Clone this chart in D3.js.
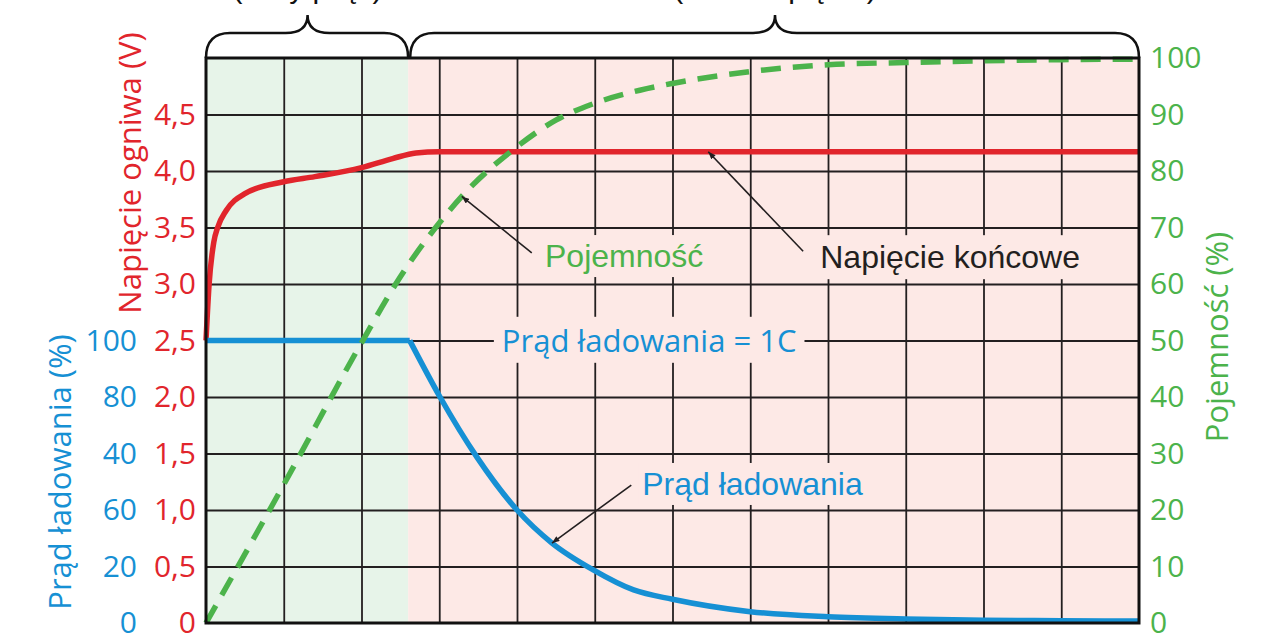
<!doctype html>
<html>
<head>
<meta charset="utf-8">
<script src="https://d3js.org/d3.v7.min.js"></script>
<style>
    body { margin: 0; background: #fff; }
    .grid line { stroke: #231f20; stroke-width: 1.8px; }
    .grid path { display: none; }
    .ax path { display: none; }
    .ax text { font-family: "Open Sans", sans-serif; font-size: 30px; }
</style>
</head>
<body>
<script>

    // time axis: 12 grid columns, first phase ends at 2.6
    var phaseEnd = 2.6;

    // cell voltage (V)
    var voltageT = [0, 0.04, 0.1, 0.15, 0.26, 0.5, 1.0, 1.4, 2.0, 2.4, 2.7, 3.0, 12];
    var voltageV = [2.5, 3.0, 3.37, 3.5, 3.65, 3.8, 3.905, 3.95, 4.03, 4.11, 4.16, 4.17, 4.17];

    // charging current (%)
    var currentT = [0, 2.62, 3.01, 3.48, 4.0, 4.45, 4.98, 5.5, 6.0, 7.0, 8.0, 9.0, 10, 11, 12];
    var currentV = [100, 100, 80, 58.9, 40, 28.3, 18.8, 11.7, 8.4, 4.0, 2.2, 1.4, 1.0, 0.8, 0.7];

    // capacity (%)
    var capT = [0, 1, 2, 2.5, 3.0, 3.29, 4.0, 4.5, 5.0, 5.58, 6.0, 7.0, 8.0, 9.0, 10, 11, 12];
    var capV = [0, 24.5, 49.6, 61.3, 70.8, 75.5, 84.3, 89, 92, 94.3, 95.5, 97.6, 98.8, 99.2, 99.5, 99.7, 99.8];

    // tick labels
    var voltTicks = [0, 0.5, 1.0, 1.5, 2.0, 2.5, 3.0, 3.5, 4.0, 4.5];
    var voltTickLabels = ["0", "0,5", "1,0", "1,5", "2,0", "2,5", "3,0", "3,5", "4,0", "4,5"];
    var currentTicks = [0, 20, 40, 60, 80, 100];
    var currentTickLabels = ["0", "20", "60", "40", "80", "100"];
    var capTicks = [0, 10, 20, 30, 40, 50, 60, 70, 80, 90, 100];

    var red = "#e1252c", blue = "#1690d4", green = "#4cb34b", ink = "#231f20";
    var greenBg = "#e7f4e9", pinkBg = "#fde9e6";

    var margin = {top: 58, right: 141, bottom: 17, left: 206},
        width = 1280 - margin.left - margin.right,
        height = 640 - margin.top - margin.bottom;

    var svg = d3.select("body").append("svg")
        .attr("width", 1280)
        .attr("height", 640);

    var g = svg.append("g")
        .attr("transform", "translate(" + margin.left + "," + margin.top + ")");

    var x = d3.scaleLinear().domain([0, 12]).range([0, width]);
    var yV = d3.scaleLinear().domain([0, 5]).range([height, 0]);
    var yCap = d3.scaleLinear().domain([0, 100]).range([height, 0]);
    var yCur = d3.scaleLinear().domain([0, 100]).range([height, yV(2.5)]);

    // phase backgrounds
    g.append("rect").attr("x", x(0)).attr("y", 0)
        .attr("width", x(phaseEnd) - x(0)).attr("height", height).attr("fill", greenBg);
    g.append("rect").attr("x", x(phaseEnd)).attr("y", 0)
        .attr("width", x(12) - x(phaseEnd)).attr("height", height).attr("fill", pinkBg);

    // grid
    g.append("g").attr("class", "grid")
        .attr("transform", "translate(0," + height + ")")
        .call(d3.axisBottom(x).tickValues(d3.range(1, 12)).tickSize(-height).tickFormat(""));
    g.append("g").attr("class", "grid")
        .call(d3.axisLeft(yV).tickValues(voltTicks.slice(1)).tickSize(-width).tickFormat(""));

    // annotation labels (with background patches that break the grid)
    var labels = [
        {text: "Pojemność", t: 4.36, v: 3.15, color: green, font: "Liberation Sans", size: 32, anchor: "start", bg: pinkBg, px: 4, py: 3},
        {text: "Napięcie końcowe", t: 7.9, v: 3.14, color: ink, font: "Liberation Sans", size: 32, anchor: "start", bg: pinkBg, px: 5, py: 4},
        {text: "Prąd ładowania = 1C", t: 5.7, v: 2.4, color: blue, font: "Open Sans", size: 31, anchor: "middle", bg: pinkBg, px: 8, py: 2},
        {text: "Prąd ładowania", t: 5.61, v: 1.133, color: blue, font: "Liberation Sans", size: 32, anchor: "start", bg: pinkBg, px: 4, py: 3}
    ];

    var bgLayer = g.append("g");
    var curveLayer = g.append("g");
    var textLayer = g.append("g");

    labels.forEach(function (d) {
        var t = textLayer.append("text")
            .attr("x", x(d.t))
            .attr("y", yV(d.v))
            .attr("text-anchor", d.anchor)
            .attr("font-family", d.font)
            .attr("font-size", d.size + "px")
            .attr("fill", d.color)
            .text(d.text);
        var b = t.node().getBBox();
        bgLayer.append("rect")
            .attr("x", b.x - d.px).attr("y", b.y - d.py)
            .attr("width", b.width + 2 * d.px).attr("height", b.height + 2 * d.py)
            .attr("fill", d.bg);
    });

    // curves
    var voltLine = d3.line()
        .x(function (d, i) { return x(voltageT[i]); })
        .y(function (d) { return yV(d); })
        .curve(d3.curveMonotoneX);
    curveLayer.append("path")
        .attr("d", voltLine(voltageV))
        .attr("fill", "none").attr("stroke", red).attr("stroke-width", 5.5);

    var knee = 1;
    var curLine = d3.line()
        .x(function (d) { return x(d[0]); })
        .y(function (d) { return yCur(d[1]); });
    var curPts = currentT.map(function (t, i) { return [t, currentV[i]]; });
    curveLayer.append("path")
        .attr("d", curLine(curPts.slice(0, knee + 1)))
        .attr("fill", "none").attr("stroke", blue).attr("stroke-width", 5.5);
    curveLayer.append("path")
        .attr("d", curLine.curve(d3.curveMonotoneX)(curPts.slice(knee)))
        .attr("fill", "none").attr("stroke", blue).attr("stroke-width", 5.5)
        .attr("stroke-linejoin", "round");

    var capLine = d3.line()
        .x(function (d, i) { return x(capT[i]); })
        .y(function (d) { return yCap(d); })
        .curve(d3.curveMonotoneX);
    curveLayer.append("path")
        .attr("d", capLine(capV))
        .attr("fill", "none").attr("stroke", green).attr("stroke-width", 5.5)
        .attr("stroke-dasharray", "20 12");

    // leader lines, in data units of the voltage scale
    svg.append("defs").append("marker")
        .attr("id", "arrow")
        .attr("viewBox", "0 0 10 8")
        .attr("refX", 10).attr("refY", 4)
        .attr("markerWidth", 8).attr("markerHeight", 6)
        .attr("markerUnits", "userSpaceOnUse")
        .attr("orient", "auto")
        .append("path").attr("d", "M0,0 L10,4 L0,8 z").attr("fill", ink);

    var leaders = [
        {t1: 4.19, v1: yV.invert(yCap(65.5)), t2: 3.29, v2: yV.invert(yCap(75.5))},
        {t1: 7.68, v1: 3.29, t2: 6.46, v2: 4.17},
        {t1: 5.47, v1: 1.221, t2: 4.45, v2: yV.invert(yCur(28.3))}
    ];
    g.append("g").selectAll("line").data(leaders).enter().append("line")
        .attr("x1", function (d) { return x(d.t1); })
        .attr("y1", function (d) { return yV(d.v1); })
        .attr("x2", function (d) { return x(d.t2); })
        .attr("y2", function (d) { return yV(d.v2); })
        .attr("stroke", ink).attr("stroke-width", 1.6)
        .attr("marker-end", "url(#arrow)");

    // frame
    g.append("rect").attr("width", width).attr("height", height)
        .attr("fill", "none").attr("stroke", "#111").attr("stroke-width", 3);

    // axes labels
    var axV = g.append("g").attr("class", "ax")
        .call(d3.axisLeft(yV).tickValues(voltTicks).tickSize(0).tickPadding(10)
            .tickFormat(function (d, i) { return voltTickLabels[i]; }));
    axV.selectAll("text").attr("fill", red);

    var axC = g.append("g").attr("class", "ax")
        .attr("transform", "translate(-69,0)")
        .call(d3.axisLeft(yCur).tickValues(currentTicks).tickSize(0).tickPadding(0)
            .tickFormat(function (d, i) { return currentTickLabels[i]; }));
    axC.selectAll("text").attr("fill", blue);

    var axP = g.append("g").attr("class", "ax")
        .attr("transform", "translate(" + width + ",0)")
        .call(d3.axisRight(yCap).tickValues(capTicks).tickSize(0).tickPadding(11));
    axP.selectAll("text").attr("fill", green);

    // axis titles
    function vTitle(txt, cx, cy, color) {
        svg.append("text")
            .attr("transform", "translate(" + cx + "," + cy + ") rotate(-90)")
            .attr("text-anchor", "middle")
            .attr("font-family", "Open Sans")
            .attr("font-size", "31px")
            .attr("fill", color)
            .text(txt);
    }
    vTitle("Napięcie ogniwa (V)", 141, 173, red);
    vTitle("Prąd ładowania (%)", 71, 472, blue);
    vTitle("Pojemność (%)", 1228, 337, green);

    // braces over the two phases
    function brace(x0, x1, xm) {
        var base = margin.top, mid = 33, tip = 15;
        return "M" + x0 + "," + base +
            " Q" + x0 + "," + mid + " " + (x0 + 24) + "," + mid +
            " L" + (xm - 22) + "," + mid +
            " Q" + xm + "," + mid + " " + xm + "," + tip +
            " Q" + xm + "," + mid + " " + (xm + 22) + "," + mid +
            " L" + (x1 - 24) + "," + mid +
            " Q" + x1 + "," + mid + " " + x1 + "," + base;
    }
    var bx0 = margin.left + x(0), bx1 = margin.left + x(phaseEnd) + 1, bx2 = margin.left + x(12);
    var braces = [
        {a: bx0, b: bx1 - 1, m: (bx0 + bx1) / 2, text: "(stały prąd)"},
        {a: bx1 + 1, b: bx2, m: 775, text: "(stałe napięcie)"}
    ];
    braces.forEach(function (d) {
        svg.append("path").attr("d", brace(d.a, d.b, d.m))
            .attr("fill", "none").attr("stroke", "#111").attr("stroke-width", 2.5);
        svg.append("text")
            .attr("x", d.m).attr("y", -2)
            .attr("text-anchor", "middle")
            .attr("font-family", "Liberation Sans")
            .attr("font-size", "30px")
            .attr("fill", "#111")
            .text(d.text);
    });

</script>
</body>
</html>
